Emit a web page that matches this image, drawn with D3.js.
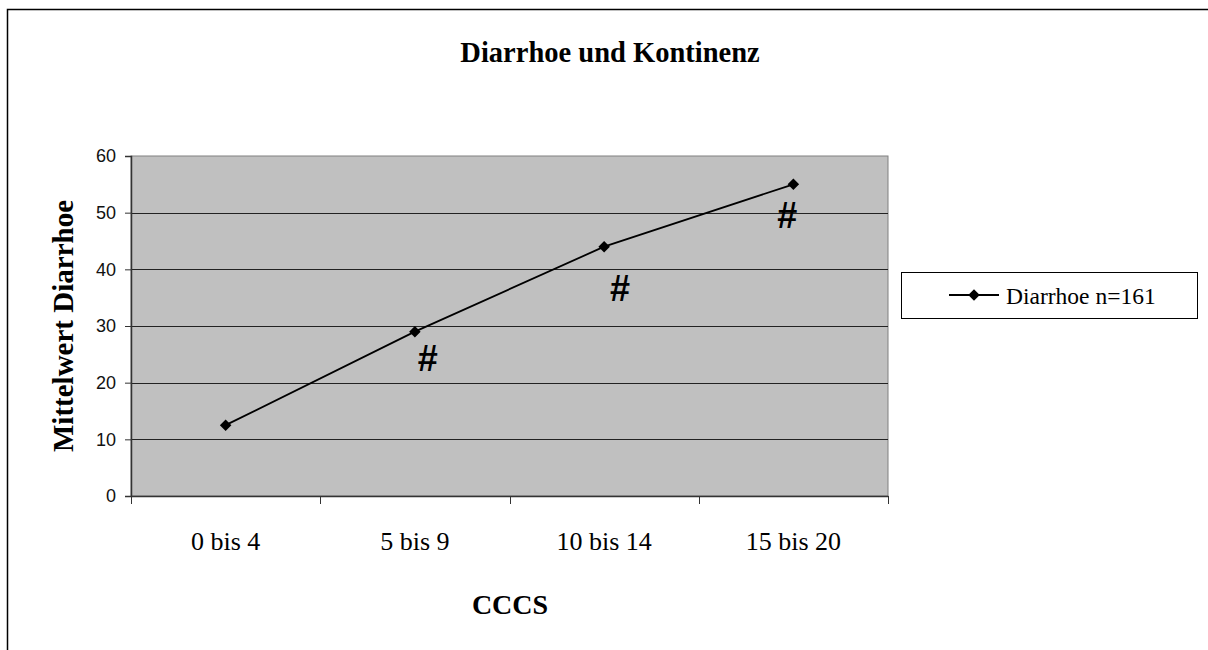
<!DOCTYPE html>
<html>
<head>
<meta charset="utf-8">
<script src="https://cdn.jsdelivr.net/npm/d3@7"></script>
<style>
  body { margin: 0; background: #fff; }
  svg { display: block; }
</style>
</head>
<body>
<svg></svg>
<script>
let width = 1208;
let height = 650;

// data
let categories = ["0 bis 4", "5 bis 9", "10 bis 14", "15 bis 20"];
let values = [12.5, 29, 44, 55];
let seriesName = "Diarrhoe n=161";
let yTicks = [0, 10, 20, 30, 40, 50, 60];
// significance marks under points
let marks = ["", "#", "#", "#"];
let markValues = [null, 24.4, 36.7, 49.6];
let markShift = [0, 13, 16, -6];

let plotLeft = 131, plotRight = 888, plotTop = 156, plotBottom = 496;
let serif = 'Liberation Serif, Times New Roman, serif';
let sans = 'Liberation Sans, Arial, sans-serif';

let svg = d3.select('svg').attr('width', width).attr('height', height);

// outer chart frame
svg.append('rect')
    .attr('x', 7.5).attr('y', 9.5)
    .attr('width', 1210).attr('height', 660)
    .attr('fill', 'white').attr('stroke', 'black').attr('stroke-width', 1.5);

let xScale = d3.scaleBand().domain(categories).range([plotLeft, plotRight]);
let yScale = d3.scaleLinear().domain([0, 60]).range([plotBottom, plotTop]);

// plot area
svg.append('rect')
    .attr('x', plotLeft).attr('y', plotTop)
    .attr('width', plotRight - plotLeft).attr('height', plotBottom - plotTop)
    .attr('fill', '#c0c0c0').attr('stroke', '#808080');

// gridlines
svg.append('g')
    .selectAll('line')
    .data(yTicks.filter(d => d > 0 && d < 60))
    .join('line')
    .attr('x1', plotLeft).attr('x2', plotRight)
    .attr('y1', d => Math.round(yScale(d)) + 0.5)
    .attr('y2', d => Math.round(yScale(d)) + 0.5)
    .attr('stroke', '#222').attr('stroke-width', 1);

// y axis
let yAxis = d3.axisLeft(yScale).tickValues(yTicks).tickSize(6).tickPadding(9);
let gy = svg.append('g')
    .attr('transform', 'translate(' + plotLeft + ', 0)')
    .call(yAxis);
gy.select('.domain').attr('stroke', '#333').attr('stroke-width', 1.5);
gy.selectAll('.tick line').attr('stroke', '#333');
gy.selectAll('.tick text')
    .attr('font-family', sans)
    .attr('font-size', 18).attr('fill', '#111');

// x axis, ticks at band boundaries
let xAxis = d3.axisBottom(xScale).tickSize(0).tickPadding(36);
let gx = svg.append('g')
    .attr('transform', 'translate(0, ' + plotBottom + ')')
    .call(xAxis);
gx.select('.domain').attr('stroke', '#333').attr('stroke-width', 1.5);
gx.selectAll('.tick text')
    .attr('font-family', serif)
    .attr('font-size', 26).attr('fill', '#000');
let bounds = categories.map(c => xScale(c)).concat([xScale(categories[3]) + xScale.bandwidth()]);
gx.selectAll('.bound')
    .data(bounds)
    .join('line')
    .attr('class', 'bound')
    .attr('x1', d => Math.round(d) + 0.5).attr('x2', d => Math.round(d) + 0.5)
    .attr('y1', 0).attr('y2', 8)
    .attr('stroke', '#333');

// line
let cx = d => xScale(d) + xScale.bandwidth() / 2;
let line = d3.line()
    .x((d, i) => cx(categories[i]))
    .y(d => yScale(d));
svg.append('path')
    .datum(values)
    .attr('d', line)
    .attr('fill', 'none').attr('stroke', 'black').attr('stroke-width', 1.8);

let diamond = d3.symbol().type(d3.symbolDiamond2).size(85);
svg.append('g')
    .selectAll('path')
    .data(values)
    .join('path')
    .attr('d', diamond)
    .attr('transform', (d, i) => 'translate(' + cx(categories[i]) + ',' + yScale(d) + ')')
    .attr('fill', 'black');

// # marks
marks.forEach((m, i) => {
    if (!m) return;
    svg.append('text')
        .attr('x', cx(categories[i]) + markShift[i])
        .attr('y', yScale(markValues[i]))
        .attr('dy', '0.36em')
        .attr('text-anchor', 'middle')
        .attr('font-family', sans)
        .attr('font-weight', 'bold')
        .attr('font-size', 36)
        .text(m);
});

// title
svg.append('text')
    .attr('x', 610).attr('y', 62)
    .attr('text-anchor', 'middle')
    .attr('font-family', serif)
    .attr('font-weight', 'bold').attr('font-size', 28.5)
    .text('Diarrhoe und Kontinenz');

// axis titles
svg.append('text')
    .attr('transform', 'translate(73, ' + (plotTop + plotBottom) / 2 + ') rotate(-90)')
    .attr('text-anchor', 'middle')
    .attr('font-family', serif)
    .attr('font-weight', 'bold').attr('font-size', 29)
    .text('Mittelwert Diarrhoe');
svg.append('text')
    .attr('x', 510).attr('y', 614)
    .attr('text-anchor', 'middle')
    .attr('font-family', serif)
    .attr('font-weight', 'bold').attr('font-size', 28)
    .text('CCCS');

// legend
let lg = svg.append('g');
lg.append('rect')
    .attr('x', 901.5).attr('y', 272.5)
    .attr('width', 296).attr('height', 46)
    .attr('fill', 'white').attr('stroke', 'black');
lg.append('line')
    .attr('x1', 949).attr('x2', 999).attr('y1', 295).attr('y2', 295)
    .attr('stroke', 'black').attr('stroke-width', 1.8);
lg.append('path')
    .attr('d', diamond)
    .attr('transform', 'translate(974,295)');
lg.append('text')
    .attr('x', 1006).attr('y', 304)
    .attr('font-family', serif)
    .attr('font-size', 23.5)
    .text(seriesName);
</script>
</body>
</html>
